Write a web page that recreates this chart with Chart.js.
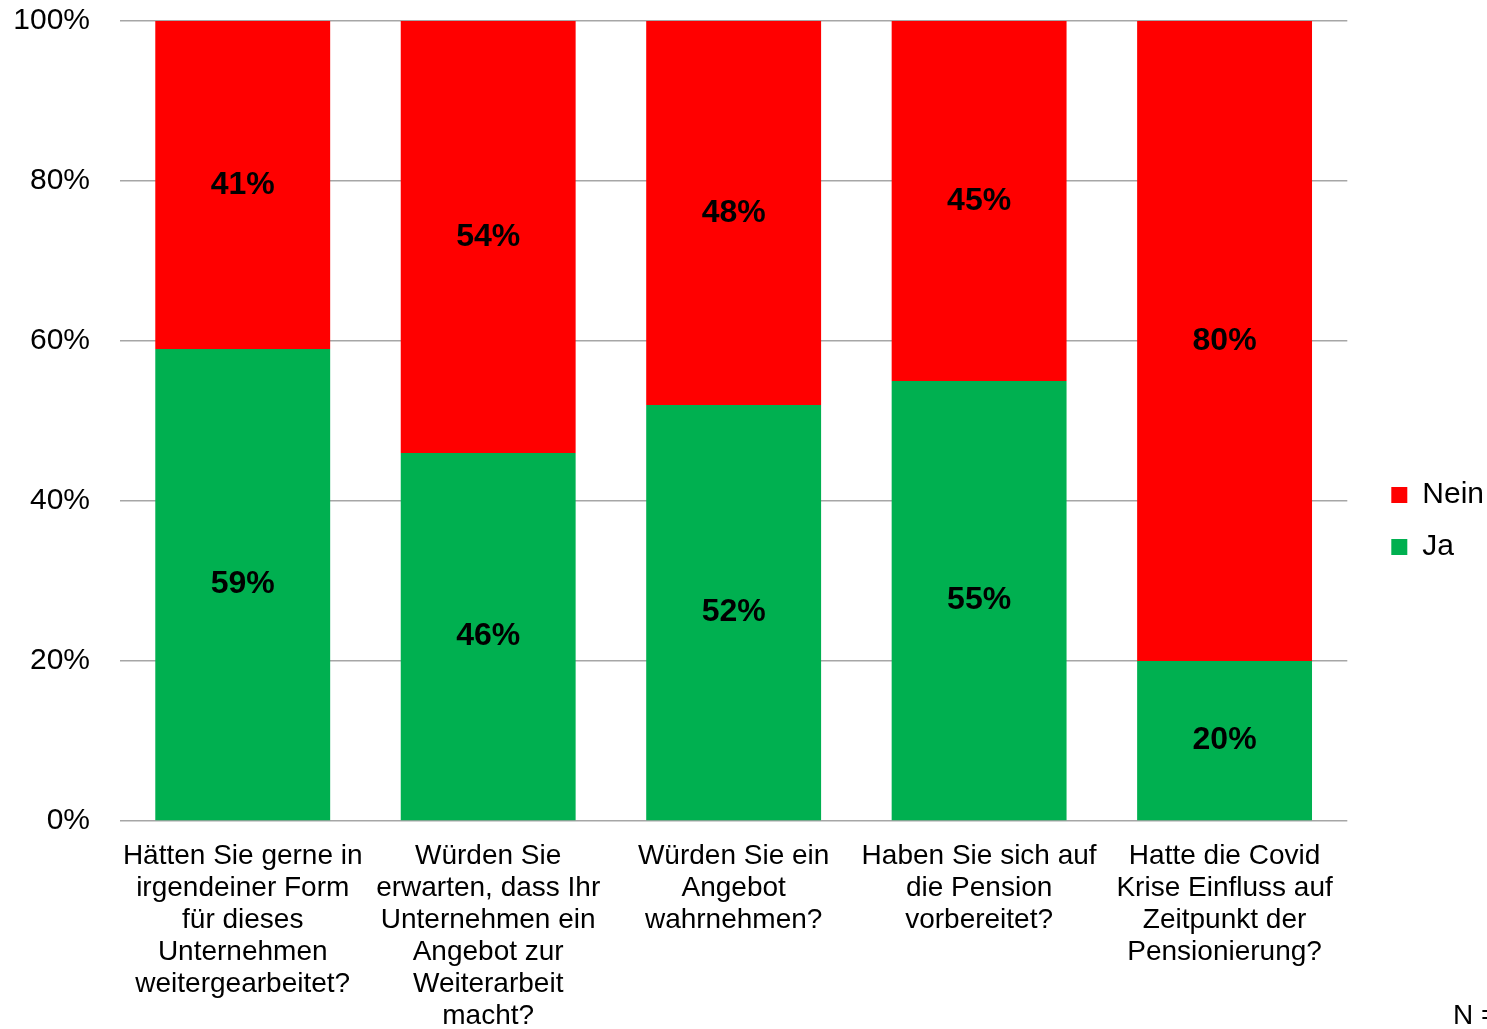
<!DOCTYPE html>
<html>
<head>
<meta charset="utf-8">
<script src="https://cdn.jsdelivr.net/npm/chart.js@4.4.1/dist/chart.umd.min.js"></script>
<style>
    html, body { margin: 0; padding: 0; background: #fff; overflow: hidden; }
    #wrap { position: relative; width: 1487px; height: 1029px; }
    #note {
        position: absolute; left: 1453px; top: 1001px;
        font: 28px "Liberation Sans", Arial, sans-serif; line-height: 1;
        white-space: nowrap; color: #000;
    }
</style>
</head>
<body>
<div id="wrap">
    <canvas id="chart"></canvas>
    <div id="note">N = 150</div>
</div>
<script>
const categories = [
    ["Hätten Sie gerne in", "irgendeiner Form", "für dieses", "Unternehmen", "weitergearbeitet?"],
    ["Würden Sie", "erwarten, dass Ihr", "Unternehmen ein", "Angebot zur", "Weiterarbeit", "macht?"],
    ["Würden Sie ein", "Angebot", "wahrnehmen?"],
    ["Haben Sie sich auf", "die Pension", "vorbereitet?"],
    ["Hatte die Covid", "Krise Einfluss auf", "Zeitpunkt der", "Pensionierung?"]
];
const jaValues = [59, 46, 52, 55, 20];
const neinValues = [41, 54, 48, 45, 80];
const yTicks = [0, 20, 40, 60, 80, 100];

const FONT = "'Liberation Sans', Arial, sans-serif";

// labels in the middle of each segment
const segmentLabels = {
    id: "segmentLabels",
    afterDatasetsDraw(chart) {
        const ctx = chart.ctx;
        ctx.save();
        ctx.font = "bold 32px " + FONT;
        ctx.fillStyle = "#000";
        ctx.textAlign = "center";
        ctx.textBaseline = "middle";
        chart.data.datasets.forEach((ds, di) => {
            chart.getDatasetMeta(di).data.forEach((bar, i) => {
                ctx.fillText(ds.data[i] + "%", bar.x, (bar.y + bar.base) / 2);
            });
        });
        ctx.restore();
    }
};

// push the legend a bit away from the plot
const legendShift = {
    id: "legendShift",
    afterLayout(chart) {
        chart.legend.left += 22;
        chart.legend.right += 22;
        chart.legend.top -= 4;
        chart.legend.bottom -= 4;
    }
};

new Chart(document.getElementById("chart").getContext("2d"), {
    type: "bar",
    data: {
        labels: categories,
        datasets: [{
            label: "Ja",
            data: jaValues,
            backgroundColor: "#00b050"
        }, {
            label: "Nein",
            data: neinValues,
            backgroundColor: "#ff0000"
        }]
    },
    options: {
        responsive: true,
        maintainAspectRatio: false,
        animation: false,
        categoryPercentage: 1,
        barPercentage: 0.7125,
        layout: {
            padding: { left: 0, top: 21, right: 15, bottom: 0 }
        },
        plugins: {
            legend: {
                position: "right",
                reverse: true,
                labels: {
                    boxWidth: 16,
                    boxHeight: 16,
                    padding: 22,
                    color: "#000",
                    font: { family: FONT, size: 30 }
                }
            },
            title: { display: false },
            tooltip: { enabled: false }
        },
        scales: {
            x: {
                stacked: true,
                grid: { display: false, drawTicks: false },
                border: { display: false },
                afterFit(scale) {
                    scale.height = 208;
                    scale.paddingLeft = 0;
                    scale.paddingRight = 0;
                },
                ticks: {
                    autoSkip: false,
                    maxRotation: 0,
                    minRotation: 0,
                    padding: 19,
                    color: "#000",
                    font: { family: FONT, size: 28, lineHeight: 32 / 28 }
                }
            },
            y: {
                stacked: true,
                min: 0,
                max: 100,
                afterBuildTicks(scale) {
                    scale.ticks = yTicks.map(v => ({ value: v }));
                },
                afterFit(scale) {
                    scale.width = 120;
                    scale.paddingTop = 0;
                    scale.paddingBottom = 0;
                },
                grid: { color: "#a6a6a6", lineWidth: 1.5, drawTicks: false },
                border: { display: false },
                ticks: {
                    padding: 30,
                    color: "#000",
                    font: { family: FONT, size: 30 },
                    callback: v => v + "%"
                }
            }
        }
    },
    plugins: [segmentLabels, legendShift]
});
</script>
</body>
</html>
